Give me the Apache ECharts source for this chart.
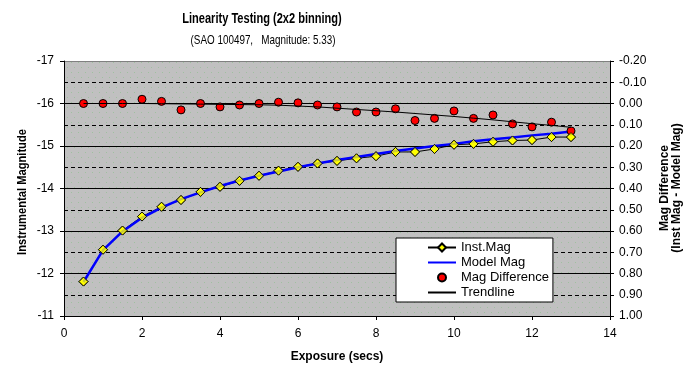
<!DOCTYPE html>
<html>
<head>
<meta charset="utf-8">
<script src="https://cdn.jsdelivr.net/npm/echarts@6/dist/echarts.min.js"></script>
<style>
html,body{margin:0;padding:0;background:#fff;}
#main{width:699px;height:374px;}
</style>
</head>
<body>
<div id="main"></div>
<script>
// ---- data ----
var exposure = [0.5,1,1.5,2,2.5,3,3.5,4,4.5,5,5.5,6,6.5,7,7.5,8,8.5,9,9.5,10,10.5,11,11.5,12,12.5,13];
var instMag  = [-11.81,-12.56,-13.01,-13.34,-13.57,-13.73,-13.92,-14.04,-14.18,-14.30,-14.42,-14.51,-14.59,-14.65,-14.71,-14.76,-14.86,-14.86,-14.93,-15.03,-15.05,-15.10,-15.13,-15.14,-15.21,-15.21];
var modelMag = [-11.80,-12.55,-12.99,-13.31,-13.55,-13.75,-13.91,-14.06,-14.19,-14.30,-14.40,-14.50,-14.59,-14.67,-14.74,-14.81,-14.88,-14.94,-15.00,-15.05,-15.11,-15.16,-15.20,-15.25,-15.29,-15.34];
var magDiff  = [0.00,0.00,0.00,-0.02,-0.01,0.03,0.00,0.016,0.007,0.00,-0.006,-0.003,0.007,0.016,0.04,0.04,0.025,0.08,0.07,0.035,0.07,0.054,0.096,0.11,0.088,0.129];
var trend    = [0.000,0.000,0.000,0.000,0.001,0.002,0.003,0.004,0.005,0.006,0.008,0.012,0.016,0.022,0.028,0.034,0.040,0.047,0.054,0.061,0.069,0.077,0.086,0.095,0.103,0.112];
var titleText = 'Linearity Testing (2x2 binning)';
var subtitleText = '(SAO 100497,   Magnitude: 5.33)';
var yNameLeft = 'Instrumental Magnitude';
var yNameRight = 'Mag Difference\n(Inst Mag - Model Mag)';
var xName = 'Exposure (secs)';
var seriesNames = ['Inst.Mag','Model Mag','Mag Difference','Trendline'];

function pairs(xs, ys){ return xs.map(function(x,i){ return [x, ys[i]]; }); }

// background pattern (grey with faint green dots)
var pc = document.createElement('canvas');
pc.width = 7; pc.height = 10;
var pctx = pc.getContext('2d');
pctx.fillStyle = '#c0c0c0'; pctx.fillRect(0,0,7,10);
pctx.fillStyle = '#9fc09f';
pctx.fillRect(1,2,1,1); pctx.fillRect(4,7,1,1);

var SANS = "'Liberation Sans',Arial,sans-serif";

var chart = echarts.init(document.getElementById('main'), null, {renderer:'canvas'});
chart.setOption({
  animation: false,
  backgroundColor: '#ffffff',
  textStyle: {fontFamily: SANS},
  graphic: [
    {type:'text', x:262, y:19, scaleX:0.79, style:{text:titleText, font:"bold 14px " + SANS, fill:'#000', textAlign:'center', textVerticalAlign:'middle'}},
    {type:'text', x:263, y:40, scaleX:0.76, style:{text:subtitleText, font:"13px " + SANS, fill:'#000', textAlign:'center', textVerticalAlign:'middle'}},
    {type:'text', x:23, y:192, rotation:Math.PI/2, scaleX:0.93, style:{text:yNameLeft, font:"bold 12px " + SANS, fill:'#000', textAlign:'center', textVerticalAlign:'middle'}},
    {type:'text', x:671, y:188, rotation:Math.PI/2, style:{text:yNameRight, font:"bold 12px " + SANS, lineHeight:12, fill:'#000', textAlign:'center', textVerticalAlign:'middle'}},
    {type:'text', x:337, y:357, style:{text:xName, font:"bold 12px " + SANS, fill:'#000', textAlign:'center', textVerticalAlign:'middle'}}
  ],
  grid: {left:64, top:61, width:546, height:255, show:true, backgroundColor:{image:pc, repeat:'repeat'}, borderWidth:0},
  legend: {
    orient:'vertical', left:396, top:238,
    data: [
      {name:seriesNames[0]},
      {name:seriesNames[1], itemStyle:{opacity:0}},
      {name:seriesNames[2]},
      {name:seriesNames[3], itemStyle:{opacity:0}}
    ],
    itemWidth:28, itemHeight:10, itemGap:2,
    padding:[3,4,3,31],
    backgroundColor:'#ffffff', borderColor:'#000', borderWidth:1, borderRadius:0,
    textStyle:{fontSize:13, lineHeight:13, color:'#000', fontFamily:SANS}
  },
  xAxis: {
    type:'value', min:0, max:14, interval:2,
    axisLine:{show:true, onZero:false, lineStyle:{color:'#000', width:1}},
    axisTick:{show:true, inside:false, length:4, lineStyle:{color:'#000'}},
    axisLabel:{color:'#000', fontSize:12, margin:12},
    splitLine:{show:false}
  },
  yAxis: [
    {
      type:'value', min:-17, max:-11, interval:1, inverse:true, position:'left',
      axisLine:{show:true, onZero:false, lineStyle:{color:'#000', width:1}},
      axisTick:{show:true, inside:false, length:4, lineStyle:{color:'#000'}},
      axisLabel:{color:'#000', fontSize:12, margin:10},
      splitLine:{show:true, lineStyle:{color:['#808080','#000','#000','#000','#000','#000','#000'], width:1}},
      minorTick:{show:false, splitNumber:2},
      minorSplitLine:{show:true, lineStyle:{color:'#000', width:1, type:[4,3]}}
    },
    {
      type:'value', min:-0.2, max:1.0, interval:0.1, inverse:true, position:'right',
      axisLine:{show:true, onZero:false, lineStyle:{color:'#000', width:1}},
      axisTick:{show:true, inside:false, length:4, lineStyle:{color:'#000'}},
      axisLabel:{color:'#000', fontSize:12, margin:9, formatter:function(v){ return v.toFixed(2); }},
      splitLine:{show:false}
    }
  ],
  series: [
    {
      name:'Inst.Mag', type:'line', yAxisIndex:0, data:pairs(exposure, instMag),
      symbol:'diamond', symbolSize:9, showAllSymbol:true, z:2,
      lineStyle:{color:'#000', width:1},
      itemStyle:{color:'#ffff00', borderColor:'#000', borderWidth:1}
    },
    {
      name:'Model Mag', type:'line', yAxisIndex:0, data:pairs(exposure, modelMag),
      symbol:'none', z:3,
      lineStyle:{color:'#0000ff', width:2.5},
      itemStyle:{color:'#0000ff'}
    },
    {
      name:'Mag Difference', type:'line', yAxisIndex:1, data:pairs(exposure, magDiff),
      symbol:'circle', symbolSize:8, showAllSymbol:true, z:4,
      lineStyle:{width:0, opacity:0},
      itemStyle:{color:'#ff0000', borderColor:'#000', borderWidth:1}
    },
    {
      name:'Trendline', type:'line', yAxisIndex:1, data:pairs(exposure, trend),
      symbol:'none', z:5,
      lineStyle:{color:'#000', width:1},
      itemStyle:{color:'#000'}
    },
    {
      name:'instPoints', type:'scatter', yAxisIndex:0, data:pairs(exposure, instMag),
      symbol:'diamond', symbolSize:9, z:6,
      itemStyle:{color:'#ffff00', borderColor:'#000', borderWidth:1}
    }
  ]
});
</script>
</body>
</html>
